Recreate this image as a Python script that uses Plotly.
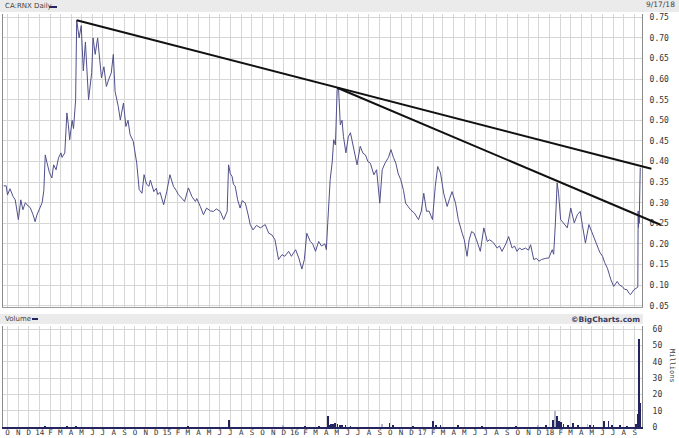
import pandas as pd
import plotly.graph_objects as go

# ---------------- data ----------------
price_dates = [
    "2013-09-20","2013-09-27","2013-10-01","2013-10-08","2013-10-17","2013-10-23","2013-11-01","2013-11-08",
    "2013-11-14","2013-11-21","2013-11-29","2013-12-05","2013-12-13","2013-12-19","2013-12-24","2014-01-02",
    "2014-01-08","2014-01-13","2014-01-17","2014-01-22","2014-01-29","2014-02-05","2014-02-10","2014-02-17",
    "2014-02-24","2014-03-03","2014-03-06","2014-03-14","2014-03-20","2014-03-24","2014-03-28","2014-04-04",
    "2014-04-08","2014-04-14","2014-04-15","2014-04-17","2014-04-24","2014-04-30","2014-05-06","2014-05-12",
    "2014-05-21","2014-05-30","2014-06-03","2014-06-09","2014-06-16","2014-06-23","2014-06-27","2014-07-04",
    "2014-07-11","2014-07-18","2014-07-25","2014-07-31","2014-08-05","2014-08-14","2014-08-20","2014-08-29",
    "2014-09-05","2014-09-11","2014-09-17","2014-09-26","2014-10-06","2014-10-13","2014-10-21","2014-10-27",
    "2014-11-03","2014-11-10","2014-11-14","2014-11-24","2014-12-01","2014-12-05","2014-12-12","2014-12-22",
    "2014-12-31","2015-01-09","2015-01-19","2015-01-27","2015-02-02","2015-02-12","2015-02-20","2015-03-03",
    "2015-03-13","2015-03-23","2015-03-27","2015-04-06","2015-04-15","2015-04-24","2015-05-05","2015-05-14",
    "2015-05-22","2015-06-02","2015-06-12","2015-06-22","2015-06-26","2015-07-01","2015-07-06","2015-07-10",
    "2015-07-15","2015-07-22","2015-07-29","2015-08-04","2015-08-13","2015-08-21","2015-08-27","2015-09-04",
    "2015-09-14","2015-09-25","2015-10-02","2015-10-09","2015-10-19","2015-10-28","2015-11-06","2015-11-16",
    "2015-11-26","2015-12-04","2015-12-15","2015-12-23","2016-01-04","2016-01-13","2016-01-22","2016-01-29",
    "2016-02-05","2016-02-15","2016-02-22","2016-03-01","2016-03-10","2016-03-18","2016-03-28","2016-04-01",
    "2016-04-05","2016-04-12","2016-04-18","2016-04-22","2016-04-27","2016-05-02","2016-05-06","2016-05-11",
    "2016-05-16","2016-05-20","2016-05-27","2016-06-03","2016-06-09","2016-06-17","2016-06-28","2016-07-07",
    "2016-07-15","2016-07-22","2016-07-29","2016-08-05","2016-08-15","2016-08-23","2016-09-01","2016-09-08",
    "2016-09-16","2016-09-26","2016-10-03","2016-10-10","2016-10-17","2016-10-24","2016-10-31","2016-11-08",
    "2016-11-14","2016-11-22","2016-11-28","2016-12-09","2016-12-21","2016-12-29","2017-01-05","2017-01-13",
    "2017-01-20","2017-01-30","2017-02-07","2017-02-14","2017-02-22","2017-03-03","2017-03-13","2017-03-20",
    "2017-03-27","2017-04-06","2017-04-14","2017-04-25","2017-05-01","2017-05-09","2017-05-15","2017-05-22",
    "2017-05-29","2017-06-05","2017-06-12","2017-06-16","2017-06-26","2017-07-06","2017-07-12","2017-07-20",
    "2017-07-26","2017-08-03","2017-08-10","2017-08-17","2017-08-28","2017-09-05","2017-09-15","2017-09-22",
    "2017-09-29","2017-10-06","2017-10-13","2017-10-23","2017-11-01","2017-11-07","2017-11-16","2017-11-24",
    "2017-12-01","2017-12-08","2017-12-20","2017-12-29","2018-01-08","2018-01-12","2018-01-17","2018-01-22",
    "2018-01-26","2018-02-01","2018-02-09","2018-02-20","2018-03-02","2018-03-12","2018-03-21","2018-03-29",
    "2018-04-04","2018-04-13","2018-04-23","2018-05-03","2018-05-09","2018-05-17","2018-05-24","2018-06-01",
    "2018-06-07","2018-06-15","2018-06-25","2018-07-03","2018-07-13","2018-07-20","2018-07-27","2018-08-03",
    "2018-08-10","2018-08-16","2018-08-20","2018-08-30","2018-09-07","2018-09-10","2018-09-11","2018-09-12",
    "2018-09-13","2018-09-14","2018-09-17",
]
price_values = [
    0.341,0.341,0.319,0.334,0.315,0.307,0.259,0.307,
    0.283,0.300,0.292,0.288,0.271,0.254,0.270,0.288,
    0.300,0.330,0.416,0.397,0.373,0.360,0.392,0.380,
    0.409,0.421,0.410,0.421,0.518,0.490,0.453,0.500,
    0.480,0.550,0.640,0.743,0.700,0.730,0.620,0.690,
    0.550,0.616,0.700,0.660,0.700,0.647,0.603,0.630,
    0.582,0.600,0.615,0.660,0.570,0.534,0.501,0.542,
    0.485,0.500,0.465,0.449,0.396,0.332,0.323,0.368,
    0.345,0.340,0.355,0.327,0.335,0.320,0.325,0.295,
    0.327,0.368,0.340,0.330,0.320,0.311,0.303,0.336,
    0.315,0.303,0.310,0.291,0.271,0.287,0.280,0.279,
    0.285,0.279,0.259,0.279,0.392,0.370,0.364,0.345,
    0.340,0.307,0.287,0.305,0.299,0.271,0.247,0.234,
    0.245,0.239,0.243,0.247,0.226,0.222,0.210,0.162,
    0.174,0.170,0.182,0.170,0.186,0.166,0.139,0.162,
    0.226,0.206,0.200,0.182,0.206,0.195,0.200,0.186,
    0.251,0.356,0.400,0.453,0.440,0.574,0.578,0.489,
    0.500,0.461,0.421,0.460,0.470,0.433,0.392,0.437,
    0.420,0.416,0.400,0.396,0.368,0.380,0.299,0.380,
    0.396,0.410,0.429,0.410,0.396,0.370,0.356,0.330,
    0.299,0.290,0.283,0.275,0.259,0.280,0.323,0.279,
    0.280,0.259,0.340,0.388,0.372,0.323,0.291,0.310,
    0.327,0.299,0.259,0.226,0.210,0.170,0.210,0.230,
    0.226,0.210,0.190,0.182,0.239,0.206,0.210,0.206,
    0.200,0.190,0.195,0.182,0.200,0.218,0.190,0.195,
    0.182,0.190,0.186,0.190,0.185,0.198,0.162,0.165,
    0.158,0.162,0.165,0.166,0.186,0.175,0.251,0.348,
    0.323,0.259,0.251,0.239,0.287,0.251,0.271,0.279,
    0.247,0.202,0.247,0.226,0.210,0.194,0.180,0.170,
    0.155,0.141,0.113,0.097,0.109,0.100,0.097,0.090,
    0.089,0.080,0.077,0.089,0.093,0.095,0.280,0.240,
    0.270,0.250,0.385,
]

# volume (millions of shares)
vol_dates = [
    "2014-01-17","2014-03-20","2014-04-15","2015-03-02","2015-06-26","2016-02-01","2016-03-10",
    "2016-04-05","2016-04-11","2016-04-15","2016-04-21","2016-04-27","2016-05-03","2016-05-09",
    "2016-05-17","2016-05-26","2016-06-09","2016-09-29","2016-10-10","2016-12-04","2017-02-01",
    "2017-02-10","2017-02-22","2017-04-14","2017-06-22","2017-09-26","2017-12-20","2018-01-09",
    "2018-01-22","2018-01-27","2018-02-02","2018-02-09","2018-02-21","2018-03-09","2018-03-23",
    "2018-04-27","2018-05-06","2018-06-04","2018-06-18","2018-06-29","2018-07-21","2018-08-10",
    "2018-09-05","2018-09-11","2018-09-12","2018-09-13","2018-09-14","2018-09-17",
]
vol_values = [
    0.5,0.7,0.7,0.6,4.5,0.8,0.6,
    7.0,1.5,2.0,1.8,2.3,2.0,1.5,
    1.2,1.0,0.8,2.5,1.0,0.8,3.5,
    1.5,1.2,1.0,0.8,0.7,1.2,4.5,
    6.8,4.0,3.0,2.0,1.5,2.5,1.5,
    1.5,1.5,3.8,3.5,1.0,1.0,0.8,
    2.0,8.0,40.0,54.0,35.0,15.0,
]
vol_light_dates = ["2015-11-30","2016-09-08","2017-11-27","2018-01-16","2018-04-19"]
vol_light_values = [1.0,1.8,1.3,10.0,2.0]

# hand-drawn resistance lines (date, price)
trend_upper = [("2014-04-17", 0.743), ("2018-10-19", 0.3825)]
trend_lower = [("2016-05-02", 0.579), ("2018-11-14", 0.2466)]

month_ticks = pd.date_range("2013-10-01", "2018-09-01", freq="MS")
month_labels = ["O","N","D",
    "14","F","M","A","M","J","J","A","S","O","N","D",
    "15","F","M","A","M","J","J","A","S","O","N","D",
    "16","F","M","A","M","J","J","A","S","O","N","D",
    "17","F","M","A","M","J","J","A","S","O","N","D",
    "18","F","M","A","M","J","J","A","S"]
price_ticks = [0.05,0.10,0.15,0.20,0.25,0.30,0.35,0.40,0.45,0.50,0.55,0.60,0.65,0.70,0.75]
price_labels = ["0.05","0.10","0.15","0.20","0.25","0.30","0.35","0.40","0.45","0.50","0.55","0.60","0.65","0.70","0.75"]
vol_ticks = [0,10,20,30,40,50,60]

# ---------------- layout constants ----------------
X_RANGE = ["2013-09-18", "2018-09-22"]
PRICE_DOM = [0.2906, 1.0]
PRICE_RNG = [0.047, 0.758]
VOL_DOM = [0.0, 0.2446]
VOL_RNG = [0, 62]

GRID = "#d6d6d6"
LINE = "#50508c"
NAVY = "#24245e"
MONO = "DejaVu Sans Mono"
SANS = "DejaVu Sans"

x0 = pd.Timestamp(X_RANGE[0]); x1 = pd.Timestamp(X_RANGE[1])
def xp(d):
    return (pd.Timestamp(d) - x0) / (x1 - x0)
def yp(v):
    return PRICE_DOM[0] + (v - PRICE_RNG[0]) / (PRICE_RNG[1] - PRICE_RNG[0]) * (PRICE_DOM[1] - PRICE_DOM[0])

fig = go.Figure()
fig.add_trace(go.Scatter(x=price_dates, y=price_values, mode="lines",
                         line=dict(color=LINE, width=1), xaxis="x", yaxis="y", hoverinfo="skip"))
fig.add_trace(go.Bar(x=vol_light_dates, y=vol_light_values, marker=dict(color="#b6b6ca", line=dict(width=0)),
                     width=2.5 * 86400000, xaxis="x2", yaxis="y2", hoverinfo="skip"))
fig.add_trace(go.Bar(x=vol_dates, y=vol_values, marker=dict(color=NAVY, line=dict(width=0)),
                     width=2.5 * 86400000, xaxis="x2", yaxis="y2", hoverinfo="skip"))

shapes = []
# header bands
shapes.append(dict(type="rect", xref="paper", yref="paper", x0=-0.01, x1=1.07, y0=1.0048, y1=1.04,
                   fillcolor="#ebebeb", line=dict(width=0), layer="below"))
shapes.append(dict(type="rect", xref="paper", yref="paper", x0=-0.01, x1=1.0016, y0=0.2494, y1=0.2736,
                   fillcolor="#ebebeb", line=dict(width=0), layer="below"))
# legend dashes
shapes.append(dict(type="line", xref="paper", yref="paper", x0=46/639, x1=54/639, y0=(427-7)/413, y1=(427-7)/413,
                   line=dict(color=NAVY, width=2)))
shapes.append(dict(type="line", xref="paper", yref="paper", x0=29/639, x1=35/639, y0=(427-319)/413, y1=(427-319)/413,
                   line=dict(color=NAVY, width=2)))
# trend lines
for tl in (trend_upper, trend_lower):
    (d0, v0), (d1, v1) = tl
    shapes.append(dict(type="line", xref="paper", yref="paper", x0=xp(d0), y0=yp(v0), x1=xp(d1), y1=yp(v1),
                       line=dict(color="#111111", width=2)))

annotations = [
    dict(text="CA:RNX Daily", xref="paper", yref="paper", x=0.0, y=(427-6)/413, xanchor="left", yanchor="middle",
         showarrow=False, font=dict(family=SANS, size=7, color="#444444")),
    dict(text="9/17/18", xref="paper", yref="paper", x=(677-3)/639, y=(427-5)/413, xanchor="right", yanchor="middle",
         showarrow=False, font=dict(family=SANS, size=7.5, color="#444444")),
    dict(text="Volume", xref="paper", yref="paper", x=0.0, y=(427-319)/413, xanchor="left", yanchor="middle",
         showarrow=False, font=dict(family=SANS, size=7, color="#444444")),
    dict(text="<b>©BigCharts.com</b>", xref="paper", yref="paper", x=1.0, y=(427-319.5)/413, xanchor="right",
         yanchor="middle", showarrow=False, font=dict(family=SANS, size=7.5, color="#3a3a5c")),
    dict(text="Millions", xref="paper", yref="paper", x=(672-3)/639, y=(427-366)/413, xanchor="center",
         yanchor="middle", textangle=90, showarrow=False, font=dict(family=MONO, size=7, color="#444444")),
]

axis_common = dict(type="date", range=X_RANGE, tickvals=month_ticks, showgrid=True, gridcolor=GRID,
                   gridwidth=1, zeroline=False, ticks="", automargin=False)

fig.update_layout(
    template="none",
    width=679, height=438,
    margin=dict(l=3, r=37, t=14, b=11, pad=0, autoexpand=False),
    paper_bgcolor="white", plot_bgcolor="white",
    showlegend=False, barmode="overlay", bargap=0,
    xaxis=dict(axis_common, anchor="y", domain=[0, 1], showticklabels=False,
               showline=True, linecolor="#9a9a9a", linewidth=1),
    xaxis2=dict(axis_common, anchor="y2", domain=[0, 1], ticktext=month_labels, showticklabels=True,
                tickfont=dict(family=MONO, size=7.5, color="#333333"), ticklabelstandoff=-3,
                showline=True, linecolor=NAVY, linewidth=2),
    yaxis=dict(domain=PRICE_DOM, range=PRICE_RNG, side="right", anchor="x", tickvals=price_ticks,
               ticktext=price_labels, showgrid=True, gridcolor=GRID, zeroline=False, ticks="",
               showline=True, linecolor="#8a8a8a", mirror=True, ticklabelstandoff=5, automargin=False,
               tickfont=dict(family=MONO, size=8, color="#333333")),
    yaxis2=dict(domain=VOL_DOM, range=VOL_RNG, side="right", anchor="x2", tickvals=vol_ticks,
                showgrid=True, gridcolor=GRID, zeroline=False, ticks="", automargin=False,
                showline=True, linecolor="#8a8a8a", mirror=True, ticklabelstandoff=8,
                tickfont=dict(family=MONO, size=8, color="#333333")),
    shapes=shapes, annotations=annotations,
)

fig.write_html("out.html", config={"displayModeBar": False},
               post_script="document.body.style.margin='0px';")
